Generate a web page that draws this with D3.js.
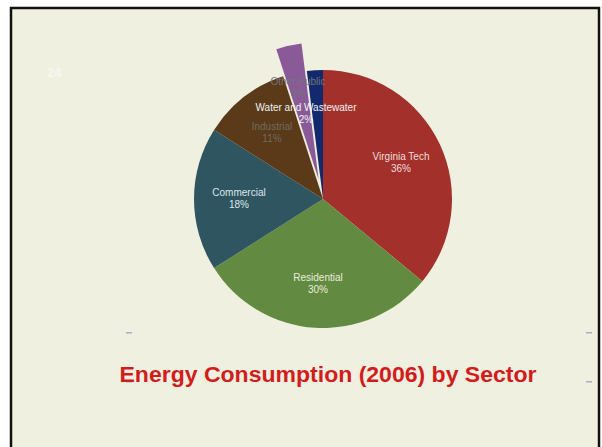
<!DOCTYPE html>
<html><head><meta charset="utf-8">
<script src="https://cdn.jsdelivr.net/npm/d3@7"></script>
<style>html,body{margin:0;padding:0;background:#fff;}svg{display:block;}</style>
</head><body>
<script>
const categories = ["Virginia Tech","Residential","Commercial","Industrial","Other Public","Water and Wastewater"];
const values = [36, 30, 18, 11, 3, 2];
const labels = ["36%","30%","18%","11%","3%","2%"];
const colors = ["#a3302a","#628a40","#2e5560","#5a3a18","#8a5a98","#13296e"];
const labelColors = ["#f0dede","#e8eedc","#dfe8ea","#6e6a62","#74747c","#f2f2f2"];
const exploded = ["Other Public"];
const title = "Energy Consumption (2006) by Sector";

const W = 602, H = 447;
const svg = d3.select("body").append("svg").attr("width", W).attr("height", H);
svg.append("rect").attr("x",0).attr("y",0).attr("width",W).attr("height",H).attr("fill","#fff");
svg.append("rect").attr("x",11).attr("y",8).attr("width",588).attr("height",470)
  .attr("fill","#f0f0e0").attr("stroke","#111").attr("stroke-width",2.5);

svg.append("text").attr("x",47).attr("y",77).text("24")
  .attr("font-family","Liberation Sans, Arial, sans-serif").attr("font-weight","bold")
  .attr("font-size",13).attr("fill","#f7f7f0");

const cx = 323, cy = 199, R = 129;
const pie = d3.pie().sort(null).value(d => d.v);
const data = categories.map((c,i)=>({c, v:values[i], l:labels[i], col:colors[i], lc:labelColors[i]}));
const arcs = pie(data);
const arc = d3.arc().innerRadius(0).outerRadius(R);
const arcEx = d3.arc().innerRadius(0).outerRadius(137);
const g = svg.append("g").attr("transform",`translate(${cx},${cy})`);
const off = 20;
g.selectAll("path").data(arcs).enter().append("path")
  .attr("d", d => exploded.includes(d.data.c) ? arcEx(d) : arc(d))
  .attr("fill", d=>d.data.col)
  .attr("transform", d=>{
    if (!exploded.includes(d.data.c)) return null;
    const a = (d.startAngle+d.endAngle)/2;
    return `translate(${off*Math.sin(a)},${-off*Math.cos(a)})`;
  });

const labelPos = {
  "Virginia Tech":[78,-39],
  "Residential":[-5,82],
  "Commercial":[-84,-3],
  "Industrial":[-51,-69],
  "Other Public":[-25,-114],
  "Water and Wastewater":[-17,-88]
};
const lg = g.selectAll("g.lab").data(arcs).enter().append("g").attr("class","lab")
  .attr("transform", d=>`translate(${labelPos[d.data.c][0]},${labelPos[d.data.c][1]})`);
lg.append("text").attr("text-anchor","middle").attr("y",0).text(d=>d.data.c)
  .attr("font-family","Liberation Sans, Arial, sans-serif").attr("font-size",10).attr("fill",d=>d.data.lc);
lg.append("text").attr("text-anchor","middle").attr("y",12).text(d=>d.data.l)
  .attr("font-family","Liberation Sans, Arial, sans-serif").attr("font-size",10).attr("fill",d=>d.data.lc);

// small dashes
[[129,333],[589,333],[129,382],[589,382]].forEach(p=>{
  svg.append("rect").attr("x",p[0]-3).attr("y",p[1]-1).attr("width",6).attr("height",1.5).attr("fill","#a8b0c4");
});

svg.append("text").attr("x",328).attr("y",382).attr("text-anchor","middle").text(title)
  .attr("font-family","Liberation Sans, Arial, sans-serif").attr("font-weight","bold")
  .attr("font-size",22.5).attr("textLength",417).attr("lengthAdjust","spacingAndGlyphs")
  .attr("fill","#d41c1c");
</script>
</body></html>
